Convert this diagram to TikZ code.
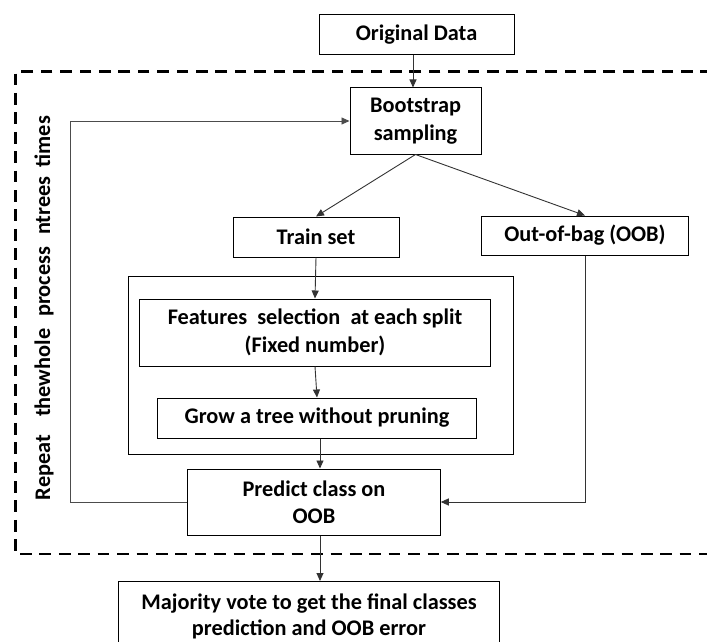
\documentclass[tikz,border=0pt]{standalone}
\usepackage{fontspec}
\setmainfont{Carlito}
\usetikzlibrary{arrows.meta}

\tikzset{
  box/.style={draw=black, line width=1pt, fill=white, inner sep=0pt,
              align=center, font=\fontsize{22.3}{27.5}\selectfont\bfseries},
  link/.style={draw=black!80, line width=0.9pt,
               -{Triangle[length=8pt,width=7pt]}},
  plain/.style={draw=black!70, line width=0.9pt},
  loopbox/.style={draw=black, line width=2.4pt, dash pattern=on 11.7pt off 7.7pt},
}

\begin{document}
\begin{tikzpicture}[x=1pt, y=-1pt]
  \useasboundingbox (0,0) rectangle (707,642);
  \clip (0,0) rectangle (707,642);

  % repeated part of the procedure, open to the right
  \coordinate (dtr) at (712,71.7);
  \coordinate (dtl) at (15.5,71.7);
  \coordinate (dbl) at (15.5,554);
  \coordinate (dbr) at (712,554);
  \draw[loopbox] (dtr) -- (dtl) -- (dbl) -- (dbr);

  % frame around the tree-growing steps
  \node[draw=black, line width=1pt, minimum width=384.5pt, minimum height=178pt,
        inner sep=0pt] (inner) at (321,365) {};

  \node[box, minimum width=195pt,   minimum height=40pt] (orig)  at (416.5,35)  {Original Data};
  \node[box, minimum width=131pt,   minimum height=66pt] (boot)  at (415.5,121) {Bootstrap\\sampling};
  \node[box, minimum width=166pt,   minimum height=40pt] (train) at (316,237)   {Train set};
  \node[box, minimum width=207pt,   minimum height=39pt] (oob)   at (585,235.5) {Out-of-bag (OOB)};
  \node[box, minimum width=351.5pt, minimum height=67pt] (feat)  at (315,332.5) {Features\ \ selection\ \ at each split\\(Fixed number)};
  \node[box, minimum width=319.5pt, minimum height=40pt] (grow)  at (317,418)   {Grow a tree without pruning};
  \node[box, minimum width=252.5pt, minimum height=66pt] (pred)  at (314,502)   {Predict class on\\OOB};
  \node[box, minimum width=380.5pt, minimum height=70pt,
        font=\fontsize{22.3}{26.5}\selectfont\bfseries] (maj)   at (309,616.5) {Majority vote to get the final classes\\prediction and OOB error};

  \node[rotate=90, font=\fontsize{22.3}{24}\selectfont\bfseries] (rep) at (44,308)
    {Repeat\hspace{18pt}thewhole\hspace{12pt}process\hspace{12pt}ntrees\hspace{9pt}times};

  % main flow
  \draw[link] (orig.south -| 413,0) -- (boot.north -| 413,0);
  \draw[link] (boot.south) -- (train.north);
  \draw[link] (boot.south) -- (oob.north);
  \draw[link] (train.south) -- (feat.north);
  \draw[link] (feat.south) -- (grow.north);
  \draw[link] (grow.south -| 320,0) -- (pred.north -| 320,0);
  \draw[link] (pred.south -| 320,0) -- (maj.north -| 320,0);

  % out-of-bag samples feed the prediction
  \draw[link] (oob.south) |- (pred.east);

  % loop back for the next tree
  \coordinate (loopx) at (70,300);
  \draw[plain, -{Triangle[length=8pt,width=7pt]}]
    (pred.west) -- (pred.west -| loopx) |- (boot.west);
\end{tikzpicture}
\end{document}
